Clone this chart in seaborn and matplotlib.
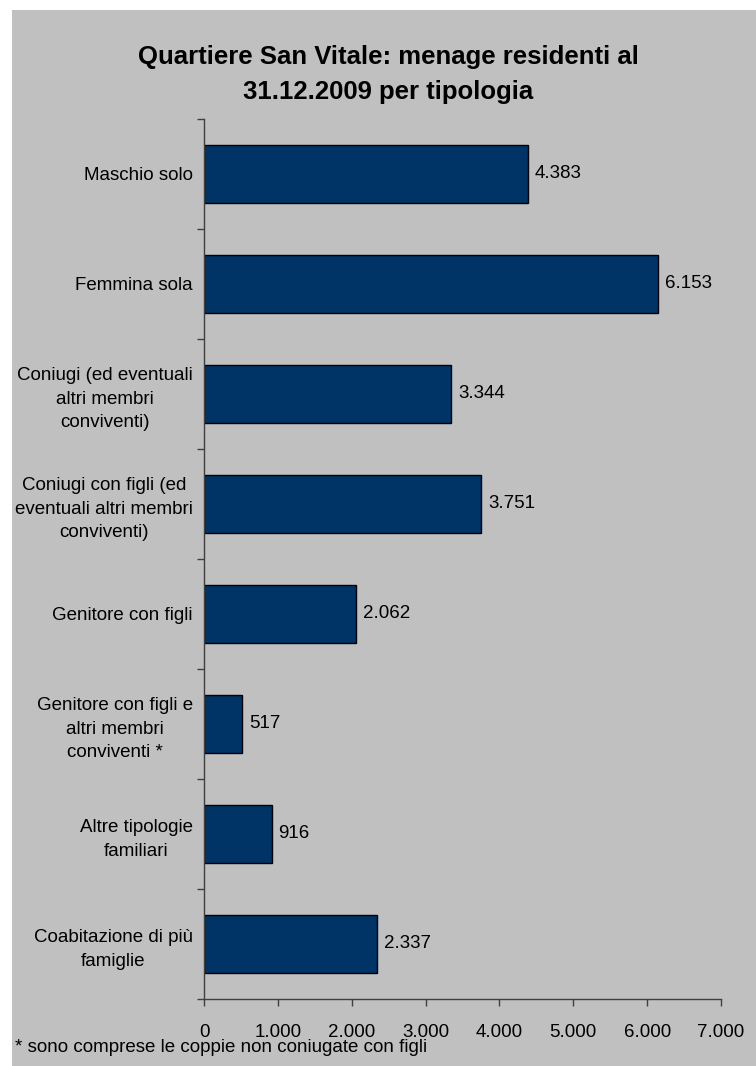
import matplotlib
matplotlib.use("Agg")
import matplotlib.pyplot as plt
from matplotlib.patches import Rectangle
from matplotlib.ticker import FixedLocator, FuncFormatter
import seaborn as sns
import pandas as pd

categories = [
    "Maschio solo",
    "Femmina sola",
    "Coniugi (ed eventuali\naltri membri\nconviventi)",
    "Coniugi con figli (ed\neventuali altri membri\nconviventi)",
    "Genitore con figli",
    "Genitore con figli e\naltri membri\nconviventi *",
    "Altre tipologie\nfamiliari",
    "Coabitazione di più\nfamiglie",
]
values = [4383, 6153, 3344, 3751, 2062, 517, 916, 2337]
x_ticks = [0, 1000, 2000, 3000, 4000, 5000, 6000, 7000]

title = "Quartiere San Vitale: menage residenti al\n31.12.2009 per tipologia"
footnote = "* sono comprese le coppie non coniugate con figli"

BG = "#C0C0C0"
BAR = "#003366"
AXIS = "#404040"
FS = 13.5

sns.set_style("ticks")
plt.rcParams["font.family"] = ["Liberation Sans", "DejaVu Sans"]
plt.rcParams["text.color"] = "black"


def it_thousands(v, _pos=None):
    return f"{int(round(v)):,}".replace(",", ".")


df = pd.DataFrame({"tipologia": categories, "menage": values})

W, H = 756, 1066
fig = plt.figure(figsize=(W / 100, H / 100), dpi=100, facecolor="white")
# grey chart panel with a thin white margin at top and left
fig.patches.append(Rectangle((12 / W, 0), 1 - 12 / W, 1 - 10 / H,
                             transform=fig.transFigure, facecolor=BG,
                             edgecolor="none", zorder=-10))

ax = fig.add_axes([204 / W, 1 - 999 / H, (721 - 204) / W, (999 - 119) / H])
ax.set_facecolor(BG)

sns.barplot(data=df, x="menage", y="tipologia", orient="h", ax=ax,
            color=BAR, saturation=1, width=0.52,
            edgecolor="black", linewidth=1.0)

ax.set_xlim(0, 7000)
ax.set_ylim(len(categories) - 0.5, -0.5)

for spine in ("top", "right"):
    ax.spines[spine].set_visible(False)
for spine in ("left", "bottom"):
    ax.spines[spine].set_color(AXIS)
    ax.spines[spine].set_linewidth(1.0)

ax.xaxis.set_major_locator(FixedLocator(x_ticks))
ax.xaxis.set_major_formatter(FuncFormatter(it_thousands))
ax.tick_params(axis="x", which="major", direction="out", length=5, width=1,
               color=AXIS, labelsize=FS, pad=13, labelcolor="black")

# category labels at bar centres, tick marks at the category boundaries
ax.tick_params(axis="y", which="major", length=0, pad=8, labelsize=FS,
               labelcolor="black")
ax.yaxis.set_minor_locator(FixedLocator([i - 0.5 for i in range(len(categories) + 1)]))
ax.tick_params(axis="y", which="minor", direction="out", length=5, width=1,
               color=AXIS)
for lbl in ax.get_yticklabels():
    lbl.set_multialignment("center")
    lbl.set_linespacing(1.5)

ax.set_xlabel("")
ax.set_ylabel("")

for i, v in enumerate(values):
    ax.annotate(it_thousands(v), xy=(v, i), xytext=(5, 0),
                textcoords="offset points", va="center", ha="left",
                fontsize=FS, color="black")

fig.text(388 / W, 1 - 45 / H, title, ha="center", va="top", color="black",
         fontsize=18.5, fontweight="bold", linespacing=1.6)

fig.text(15 / W, 1 - 1048 / H, footnote, ha="left", va="center",
         fontsize=FS, color="black")

fig.savefig("out.png", dpi=100, facecolor="white")
